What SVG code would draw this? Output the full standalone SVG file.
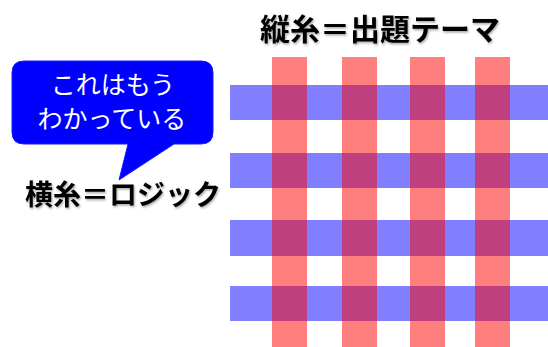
<svg xmlns="http://www.w3.org/2000/svg" width="548" height="347" viewBox="0 0 548 347">
  <defs>
    <style>
      .weft { fill: #0000ff; fill-opacity: 0.5; }
      .warp { fill: #ff0000; fill-opacity: 0.5; }
      .title { font-family: "Noto Sans CJK JP", "Noto Sans", sans-serif; font-weight: bold; fill: #000000; }
      .bubble-text { font-family: "Noto Sans CJK JP", "Noto Sans", sans-serif; font-size: 25px; fill: #ffffff; text-anchor: middle; }
    </style>
    <filter id="shadow" x="-10%" y="-20%" width="120%" height="150%">
      <feDropShadow dx="1" dy="1.5" stdDeviation="1" flood-color="#000000" flood-opacity="0.35"/>
    </filter>
  </defs>
  <rect width="548" height="347" fill="#ffffff"/>

  <g id="weft-threads">
    <rect class="weft" x="230" y="85" width="318" height="35"/>
    <rect class="weft" x="230" y="153" width="318" height="35"/>
    <rect class="weft" x="230" y="220" width="318" height="36"/>
    <rect class="weft" x="230" y="286" width="318" height="35"/>
  </g>
  <g id="warp-threads">
    <rect class="warp" x="272" y="57" width="35" height="290"/>
    <rect class="warp" x="342" y="57" width="35" height="290"/>
    <rect class="warp" x="410" y="57" width="35" height="290"/>
    <rect class="warp" x="475" y="57" width="35" height="290"/>
  </g>

  <g id="label-warp">
    <text class="title" x="380" y="40" font-size="30" text-anchor="middle" filter="url(#shadow)">縦糸＝出題テーマ</text>
  </g>

  <g id="label-weft">
    <text class="title" x="123" y="205" font-size="28" text-anchor="middle" filter="url(#shadow)">横糸＝ロジック</text>
  </g>

  <g id="callout">
    <path d="M24,61 H201 Q213,61 213,73 V132 Q213,144 201,144 H174 L119,180 L128,144 H24 Q12,144 12,132 V73 Q12,61 24,61 Z" fill="#0000ff" stroke="#1a1aff" stroke-width="1"/>
    <text class="bubble-text" x="113" y="94">これはもう</text>
    <text class="bubble-text" x="112" y="128">わかっている</text>
  </g>
</svg>
